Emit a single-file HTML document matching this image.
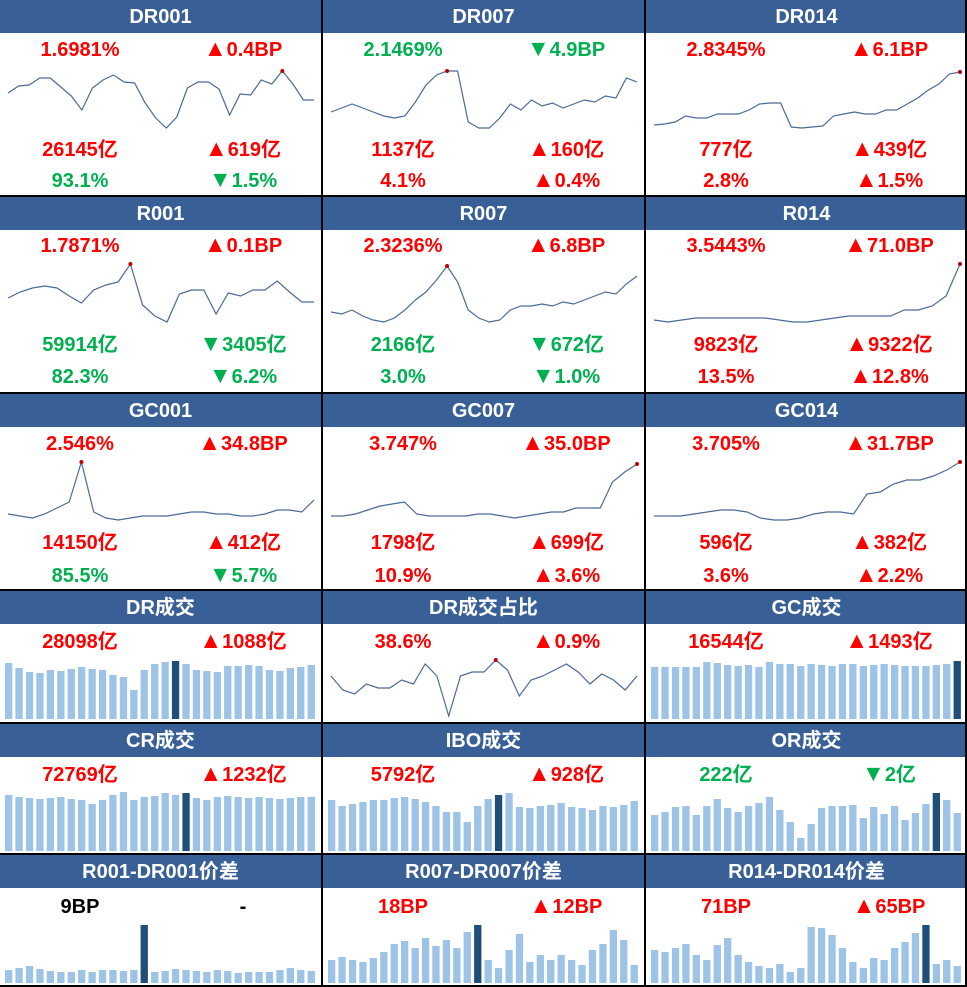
<!DOCTYPE html>
<html><head><meta charset="utf-8"><style>
body{margin:0;width:967px;height:987px;background:#fff;position:relative;overflow:hidden;font-family:"Liberation Sans","Noto Sans CJK SC",sans-serif}
.h{position:absolute;background:#386097;color:#fff;font-size:20px;text-align:center;height:33px;line-height:34px;font-weight:600}
.t{position:absolute;font-size:20px;width:160px;text-align:center;line-height:22px;height:22px;white-space:nowrap;font-weight:bold}
.t span{font-size:23px;line-height:0}
.r{color:#ff0000}.g{color:#00b050}.k{color:#000}
.vl{position:absolute;background:#000;width:2px;top:0;height:987px}
.hl{position:absolute;background:#000;height:2px;left:0;width:967px}
svg{position:absolute;left:0;top:0}
</style></head><body>
<svg width="967" height="987" id="s"></svg>
<div id="c"></div>
<script>
var C=document.getElementById('c'),S=document.getElementById('s'),h='',sv='';
var X=[0,323,646],W=[321,321,321];
function hd(col,y,txt){h+='<div class="h" style="left:'+X[col]+'px;top:'+y+'px;width:'+W[col]+'px">'+txt+'</div>';}
function tx(col,cx,y,txt,c){h+='<div class="t '+c+'" style="left:'+(X[col]+cx-80)+'px;top:'+y+'px">'+txt+'</div>';}
function line(col,ys,dot){var n=ys.length,x0=X[col]+8,x1=X[col]+314,p=[],mi=0;
for(var i=0;i<n;i++){var x=x0+(x1-x0)*i/(n-1);p.push(x.toFixed(1)+','+ys[i]);if(ys[i]<ys[mi])mi=i;}
sv+='<polyline points="'+p.join(' ')+'" fill="none" stroke="#4a6a98" stroke-width="1.2"/>';
var xd=x0+(x1-x0)*mi/(n-1);sv+='<circle cx="'+xd+'" cy="'+ys[mi]+'" r="2" fill="#c00000"/>';}
function bars(col,bot,tops,dk){var n=tops.length,sp=313/n;for(var i=0;i<n;i++){var x=X[col]+5+i*sp;
sv+='<rect x="'+x.toFixed(1)+'" y="'+tops[i]+'" width="'+(sp*0.7).toFixed(1)+'" height="'+(bot-tops[i])+'" fill="'+(i==dk?'#1f4e79':'#9dc3e6')+'"/>';}}
var U='<span>▲</span>',D='<span>▼</span>';
hd(0,0,'DR001');hd(1,0,'DR007');hd(2,0,'DR014');
tx(0,80,39,'1.6981%','r');tx(0,243,39,U+'0.4BP','r');
tx(1,80,39,'2.1469%','g');tx(1,243,39,D+'4.9BP','g');
tx(2,80,39,'2.8345%','r');tx(2,243,39,U+'6.1BP','r');
tx(0,80,139,'26145亿','r');tx(0,243,139,U+'619亿','r');tx(0,80,170,'93.1%','g');tx(0,243,170,D+'1.5%','g');
tx(1,80,139,'1137亿','r');tx(1,243,139,U+'160亿','r');tx(1,80,170,'4.1%','r');tx(1,243,170,U+'0.4%','r');
tx(2,80,139,'777亿','r');tx(2,243,139,U+'439亿','r');tx(2,80,170,'2.8%','r');tx(2,243,170,U+'1.5%','r');
line(0,[93,86,85,78,78,87,96,110,88,80,75,82,83,103,118,128,117,88,82,82,89,115,94,95,80,84,71,84,100,100]);
line(1,[112,108,104,108,112,116,118,116,102,85,75,71,71,122,128,128,118,104,110,100,106,103,108,104,100,102,96,98,78,82]);
line(2,[125,124,122,116,118,118,114,114,114,110,104,103,103,127,128,127,126,116,114,112,114,114,110,110,104,98,90,84,74,72]);
hd(0,197,'R001');hd(1,197,'R007');hd(2,197,'R014');
tx(0,80,235,'1.7871%','r');tx(0,243,235,U+'0.1BP','r');
tx(1,80,235,'2.3236%','r');tx(1,243,235,U+'6.8BP','r');
tx(2,80,235,'3.5443%','r');tx(2,243,235,U+'71.0BP','r');
tx(0,80,334,'59914亿','g');tx(0,243,334,D+'3405亿','g');tx(0,80,366,'82.3%','g');tx(0,243,366,D+'6.2%','g');
tx(1,80,334,'2166亿','g');tx(1,243,334,D+'672亿','g');tx(1,80,366,'3.0%','g');tx(1,243,366,D+'1.0%','g');
tx(2,80,334,'9823亿','r');tx(2,243,334,U+'9322亿','r');tx(2,80,366,'13.5%','r');tx(2,243,366,U+'12.8%','r');
line(0,[298,292,288,286,288,296,303,290,285,282,264,305,316,322,294,290,290,314,293,296,290,290,281,292,302,302]);
line(1,[312,314,310,316,320,322,318,310,300,292,280,266,282,310,318,322,320,310,306,306,304,306,302,304,300,296,292,294,284,276]);
line(2,[320,322,320,318,318,318,318,318,318,320,322,322,320,318,316,316,316,316,310,310,306,296,264]);
hd(0,394,'GC001');hd(1,394,'GC007');hd(2,394,'GC014');
tx(0,80,433,'2.546%','r');tx(0,243,433,U+'34.8BP','r');
tx(1,80,433,'3.747%','r');tx(1,243,433,U+'35.0BP','r');
tx(2,80,433,'3.705%','r');tx(2,243,433,U+'31.7BP','r');
tx(0,80,532,'14150亿','r');tx(0,243,532,U+'412亿','r');tx(0,80,565,'85.5%','g');tx(0,243,565,D+'5.7%','g');
tx(1,80,532,'1798亿','r');tx(1,243,532,U+'699亿','r');tx(1,80,565,'10.9%','r');tx(1,243,565,U+'3.6%','r');
tx(2,80,532,'596亿','r');tx(2,243,532,U+'382亿','r');tx(2,80,565,'3.6%','r');tx(2,243,565,U+'2.2%','r');
line(0,[514,516,518,514,508,502,462,512,518,520,518,516,516,516,514,512,512,514,514,516,516,514,510,510,512,500]);
line(1,[516,516,514,510,506,504,502,514,516,516,516,516,514,514,516,518,516,514,512,512,508,508,508,482,472,464]);
line(2,[516,516,516,514,512,510,510,512,518,520,520,518,514,512,512,514,494,492,484,480,480,476,470,462]);
hd(0,591,'DR成交');hd(1,591,'DR成交占比');hd(2,591,'GC成交');
tx(0,80,631,'28098亿','r');tx(0,243,631,U+'1088亿','r');
tx(1,80,631,'38.6%','r');tx(1,243,631,U+'0.9%','r');
tx(2,80,631,'16544亿','r');tx(2,243,631,U+'1493亿','r');
bars(0,719,[663,668,672,673,670,671,669,667,669,670,675,677,690,670,664,662,661,664,670,671,672,666,666,665,666,670,671,668,667,665],16);
line(1,[676,690,694,684,688,688,680,684,664,676,716,676,672,672,660,670,696,680,676,670,664,672,684,674,680,690,676]);
bars(2,719,[667,667,667,667,667,662,663,665,666,665,667,662,664,664,666,664,665,666,664,664,666,665,664,665,666,666,666,665,664,661],29);
hd(0,724,'CR成交');hd(1,724,'IBO成交');hd(2,724,'OR成交');
tx(0,80,764,'72769亿','r');tx(0,243,764,U+'1232亿','r');
tx(1,80,764,'5792亿','r');tx(1,243,764,U+'928亿','r');
tx(2,80,764,'222亿','g');tx(2,243,764,D+'2亿','g');
bars(0,851,[795,797,798,799,798,797,799,800,804,800,795,792,800,797,796,793,795,793,798,800,797,796,797,798,797,798,799,798,797,797],17);
bars(1,851,[800,806,804,802,800,800,798,797,799,802,806,812,812,822,806,799,795,793,807,808,806,805,803,807,808,810,806,807,805,801],16);
bars(2,851,[815,812,807,806,815,806,799,808,812,806,803,797,810,822,838,824,808,806,806,805,818,807,814,806,820,813,804,793,800,813],27);
hd(0,855,'R001-DR001价差');hd(1,855,'R007-DR007价差');hd(2,855,'R014-DR014价差');
tx(0,80,896,'9BP','k');tx(0,243,896,'-','k');
tx(1,80,896,'18BP','r');tx(1,243,896,U+'12BP','r');
tx(2,80,896,'71BP','r');tx(2,243,896,U+'65BP','r');
bars(0,983,[970,968,966,969,971,972,972,970,972,970,970,971,970,925,972,971,969,970,971,972,970,971,973,972,972,972,970,968,970,971],13);
bars(1,983,[960,957,960,962,958,952,944,941,948,938,946,940,948,932,925,960,968,950,934,962,955,960,955,960,965,950,944,930,940,965],14);
bars(2,983,[950,952,948,944,955,960,945,938,955,962,966,968,964,972,968,927,928,935,948,962,968,958,960,948,942,933,925,964,960,966],26);
h+='<div class="vl" style="left:321px"></div><div class="vl" style="left:644px"></div><div class="vl" style="left:965px"></div>';
[195,392,589,722,853,985].forEach(function(y){h+='<div class="hl" style="top:'+y+'px"></div>';});
C.innerHTML=h;S.innerHTML=sv;
</script>
</body></html>
